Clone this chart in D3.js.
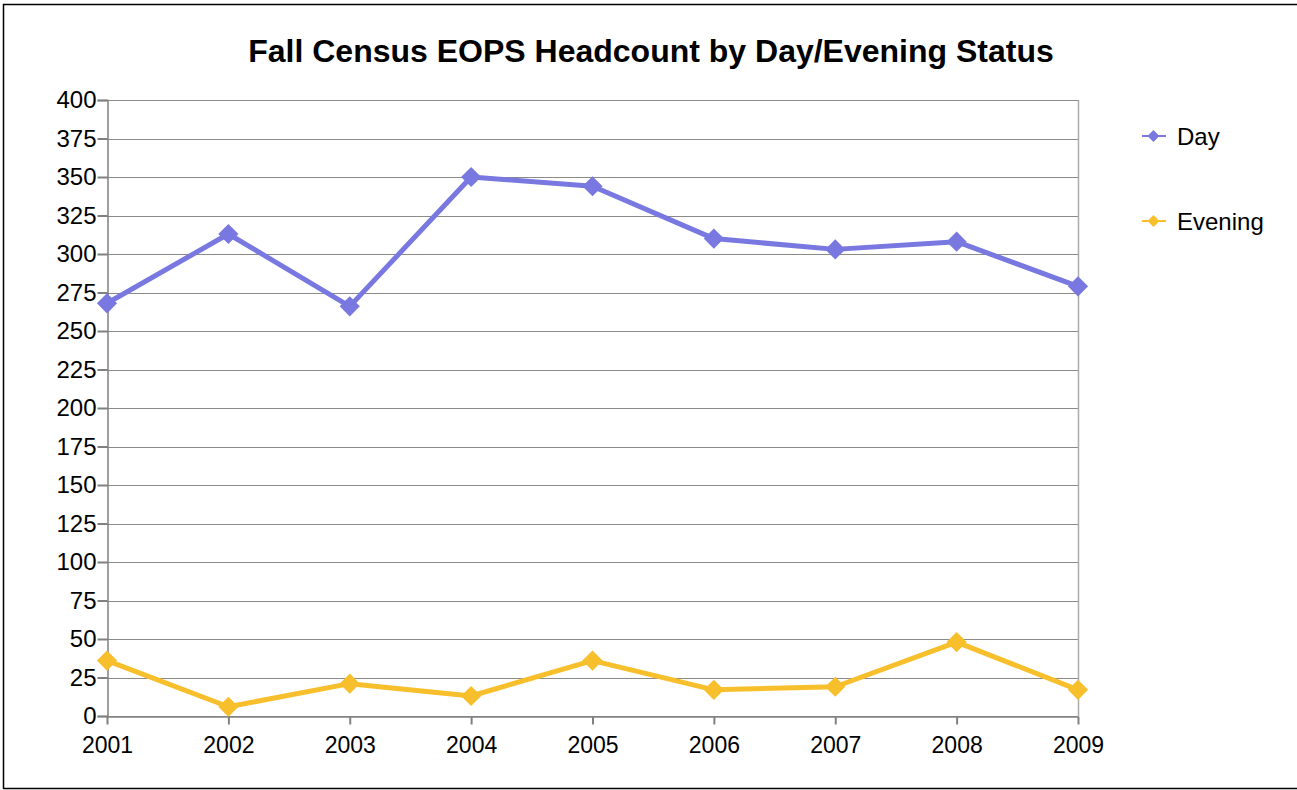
<!DOCTYPE html>
<html>
<head>
<meta charset="utf-8">
<script src="https://cdn.jsdelivr.net/npm/d3@7"></script>
<style>
  body { margin: 0; background: #fff; }
  text { font-family: "Liberation Sans", Arial, sans-serif; }
</style>
</head>
<body>
<div id="chart"></div>
<script>
// chart data
const years = ["2001", "2002", "2003", "2004", "2005", "2006", "2007", "2008", "2009"];
const dayValues = [268, 313, 266, 350, 344, 310, 303, 308, 279];
const eveningValues = [36, 6, 21, 13, 36, 17, 19, 48, 17];
const yTicks = [0, 25, 50, 75, 100, 125, 150, 175, 200, 225, 250, 275, 300, 325, 350, 375, 400];
const seriesNames = ["Day", "Evening"];
const seriesColors = ["#7878e0", "#f7bf2b"];

const width = 1297, height = 790;
const margin = {left: 107, right: 219, top: 100, bottom: 74};

const svg = d3.select("#chart").append("svg")
  .attr("width", width)
  .attr("height", height);

// outer frame
svg.append("rect")
  .attr("x", 3.5).attr("y", 4.5)
  .attr("width", 1300).attr("height", 784)
  .attr("fill", "none").attr("stroke", "#000").attr("stroke-width", 1.5);

svg.append("text")
  .attr("x", 651).attr("y", 62)
  .attr("text-anchor", "middle")
  .attr("font-size", 32).attr("font-weight", "bold")
  .text("Fall Census EOPS Headcount by Day/Evening Status");

const x = d3.scalePoint().domain(years).range([margin.left, width - margin.right]);
const y = d3.scaleLinear().domain([0, 400]).range([height - margin.bottom, margin.top]);

// grid lines
svg.append("g")
  .selectAll("line")
  .data(yTicks)
  .join("line")
  .attr("x1", margin.left).attr("x2", width - margin.right)
  .attr("y1", d => Math.round(y(d)) + 0.5).attr("y2", d => Math.round(y(d)) + 0.5)
  .attr("stroke", "#8a8a8a").attr("stroke-width", 1.2);

// right border of plot
svg.append("line")
  .attr("x1", width - margin.right + 0.5).attr("x2", width - margin.right + 0.5)
  .attr("y1", margin.top).attr("y2", height - margin.bottom)
  .attr("stroke", "#aaa").attr("stroke-width", 1.5);

const yAxis = svg.append("g")
  .attr("transform", `translate(${margin.left + 0.5},0)`)
  .call(d3.axisLeft(y).tickValues(yTicks).tickSize(10).tickPadding(1).tickFormat(d3.format("d")));

const xAxis = svg.append("g")
  .attr("transform", `translate(0,${Math.round(height - margin.bottom) + 0.5})`)
  .call(d3.axisBottom(x).tickSize(8).tickPadding(12).tickSizeOuter(0));

[yAxis, xAxis].forEach(a => {
  a.select(".domain").attr("stroke", "#808080").attr("stroke-width", 1.5);
  a.selectAll(".tick line").attr("stroke", "#808080").attr("stroke-width", 2);
  a.selectAll("text").attr("font-size", 24).attr("fill", "#000")
    .style("font-family", '"Liberation Sans", Arial, sans-serif');
});
xAxis.selectAll("text").attr("font-size", 23);

const diamond = d3.symbol().type(d3.symbolDiamond2).size(260);

const allSeries = [dayValues, eveningValues];
allSeries.forEach((vals, i) => {
  const pts = years.map((yr, j) => [x(yr), y(vals[j])]);
  svg.append("path")
    .attr("d", d3.line()(pts))
    .attr("fill", "none")
    .attr("stroke", seriesColors[i])
    .attr("stroke-width", 5)
    .attr("stroke-linejoin", "round");
  svg.append("g").selectAll("path")
    .data(pts)
    .join("path")
    .attr("d", diamond)
    .attr("transform", d => `translate(${d[0]},${d[1]})`)
    .attr("fill", seriesColors[i]);
});

// legend
const legend = svg.append("g")
  .selectAll("g")
  .data(seriesNames)
  .join("g")
  .attr("transform", (d, i) => `translate(1142,${136 + i * 85})`);

legend.append("line")
  .attr("x1", 0).attr("x2", 24)
  .attr("stroke", (d, i) => seriesColors[i]).attr("stroke-width", 2);
legend.append("path")
  .attr("d", d3.symbol().type(d3.symbolDiamond2).size(90))
  .attr("transform", "translate(11.5,0)")
  .attr("fill", (d, i) => seriesColors[i]);
legend.append("text")
  .attr("x", 35).attr("y", 8.5)
  .attr("font-size", 24)
  .text(d => d);
</script>
</body>
</html>
